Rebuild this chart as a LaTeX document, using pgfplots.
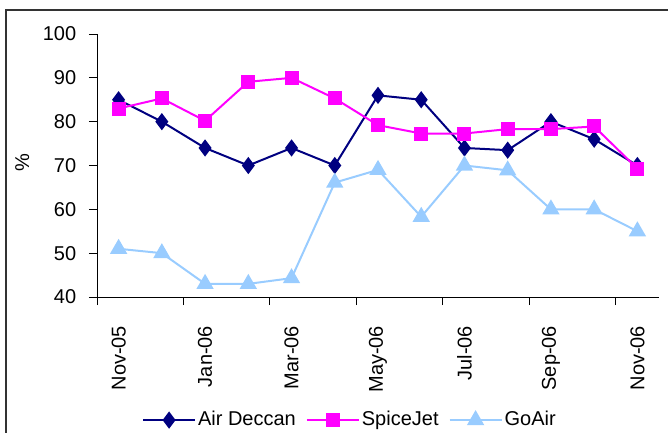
\documentclass[border=0pt]{standalone}
\usepackage{fontspec}
\setmainfont{Liberation Sans}
\usepackage{pgfplots}
\pgfplotsset{compat=1.18}
\definecolor{deccan}{RGB}{0,0,128}
\definecolor{spice}{RGB}{255,0,255}
\definecolor{goair}{RGB}{153,204,255}
\begin{document}
\fontsize{20}{24}\selectfont
\begin{tikzpicture}[x=1pt,y=1pt]
\path[use as bounding box] (0,0) rectangle (668,432);
\draw[line width=1.5pt, black!80] (6,-2) -- (6,422) -- (670,422);
\begin{axis}[
 at={(97pt,135pt)}, anchor=south west,
 scale only axis, width=562pt, height=263pt,
 xmin=-0.5, xmax=12.5, ymin=40, ymax=100,
 axis lines*=left,
 axis line style={line width=1pt, black},
 every tick/.style={line width=1pt, black},
 tick align=outside,
 major tick length=8pt,
 xtick={-0.5,1.5,3.5,5.5,7.5,9.5,11.5},
 xticklabels={,,,,,,},
 extra x ticks={0,2,4,6,8,10,12},
 extra x tick labels={Nov-05,Jan-06,Mar-06,May-06,Jul-06,Sep-06,Nov-06},
 extra x tick style={xtick style={draw=none}, xticklabel style={yshift=-14pt, rotate=90, anchor=east}},
 ytick={40,50,60,70,80,90,100},
 yticklabel style={xshift=-6pt},
 /pgf/number format/assume math mode=true,
 every tick label/.append style={font=\fontsize{20}{24}\selectfont},
 ylabel={\%},
 ylabel style={at={(axis description cs:-0.133,0.51)}, anchor=center, font=\fontsize{20}{24}\selectfont},
 legend columns=3,
 legend style={draw=none, at={(0.45,-0.468)}, anchor=center, font=\fontsize{20}{24}\selectfont,
   /tikz/every even column/.append style={column sep=8pt}, inner sep=0pt},
 legend image code/.code={\draw[mark repeat=2,mark phase=2,#1] plot coordinates {(0pt,0pt) (26pt,0pt) (52pt,0pt)};},
]
\addplot[deccan, line width=2pt, mark=diamond*, mark size=7pt, mark options={solid, fill=deccan}] coordinates {
(0,85) (1,80) (2,74) (3,70) (4,74) (5,70) (6,86) (7,85) (8,74) (9,73.5) (10,80) (11,76) (12,70)};
\addlegendentry{Air Deccan}
\addplot[spice, line width=2pt, mark=square*, mark size=6pt, mark options={solid, fill=spice}] coordinates {
(0,83) (1,85.3) (2,80.2) (3,89.1) (4,90) (5,85.3) (6,79.2) (7,77.3) (8,77.3) (9,78.3) (10,78.3) (11,78.9) (12,69.3)};
\addlegendentry{SpiceJet}
\addplot[goair, line width=2pt, mark=triangle*, mark size=8pt, mark options={solid, fill=goair}] coordinates {
(0,51) (1,50) (2,43) (3,43) (4,44.3) (5,66.1) (6,69) (7,58.3) (8,70) (9,68.9) (10,60) (11,60) (12,55)};
\addlegendentry{GoAir}
\end{axis}
\end{tikzpicture}
\end{document}
